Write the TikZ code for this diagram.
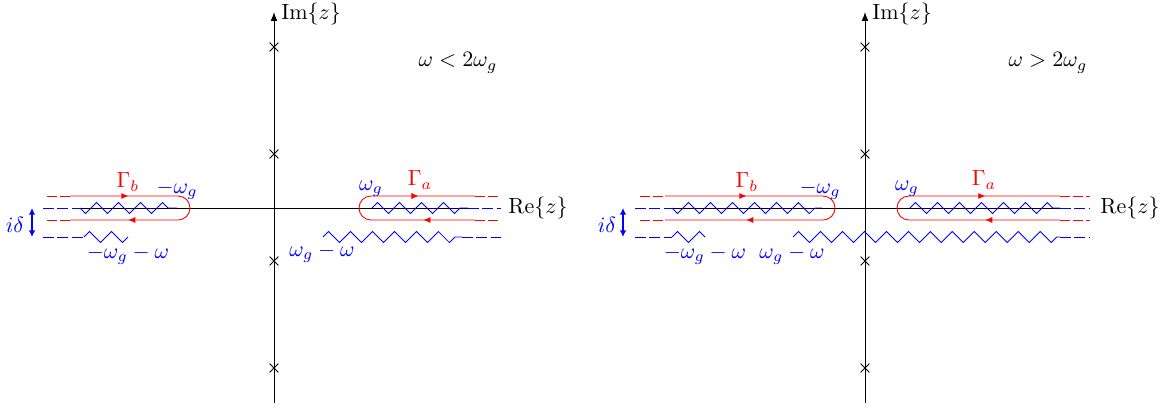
\documentclass[tikz,border=0pt]{standalone}
\usetikzlibrary{decorations.pathmorphing,decorations.markings,arrows.meta,shapes.misc}
\begin{document}
\begin{tikzpicture}[x=0.455pt,y=-0.455pt,
  axis/.style={black,line width=0.4pt},
  cut/.style={blue,decorate,decoration={zigzag,segment length=10pt,amplitude=2.5pt}},
  cutm/.style={blue,decorate,decoration={zigzag,segment length=10pt,amplitude=2.5pt,mirror}},
  bdash/.style={blue,dash pattern=on 5pt off 1.5pt},
  rdash/.style={red,dash pattern=on 4.5pt off 1.5pt},
  lbl/.style={inner sep=0pt},
  pole/.style={draw,cross out,minimum size=3.6pt,inner sep=0pt,line width=0.4pt},
  contour/.style 2 args={red,postaction={decorate},decoration={markings,
     mark=at position #1 with {\arrow{Latex[length=3.2pt,width=2.8pt]}},
     mark=at position #2 with {\arrow{Latex[length=3.2pt,width=2.8pt]}}}},
  delta/.style={blue,line width=0.7pt,{Latex[length=3pt,width=3pt]}-{Latex[length=3pt,width=3pt]}}
]
\useasboundingbox (0,0) rectangle (1160,408);

% ================= left panel =================
\draw[axis,-{Latex[length=4pt,width=3pt]}] (274,403) -- (274,12);
\node[lbl,anchor=west] (imL) at (281,14) {$\mathrm{Im}\{z\}$};
\foreach \y [count=\i] in {47,154,261,368} \node[pole] (pL\i) at (274,\y) {};
\draw[axis] (80,208) -- (468,208);
\node[lbl,anchor=west] (reL) at (508,208) {$\mathrm{Re}\{z\}$};
\node[lbl] (condL) at (458,63) {$\omega<2\omega_g$};

% cuts
\draw[bdash] (43,208) -- (80,208);
\draw[cutm] (80,208) -- (177,208);
\draw[bdash] (43,237) -- (84,237);
\draw[cut] (84,237) -- (128,237);
\draw[cut] (323,237) -- (462,237);
\draw[bdash] (462,237) -- (501,237);
\draw[cut] (372,208) -- (468,208);
\draw[bdash] (468,208) -- (501,208);

% contours
\draw[rdash] (47,196) -- (70,196);
\draw[rdash] (47,220) -- (70,220);
\draw[contour={0.23}{0.77}] (70,196) -- (178,196) arc(-90:90:12) -- (70,220);
\draw[contour={0.21}{0.77}] (475,220) -- (371,220) arc(90:270:12) -- (475,196);
\draw[rdash] (475,196) -- (501,196);
\draw[rdash] (475,220) -- (501,220);

% delta
\coordinate (dL1) at (32,208);
\coordinate (dL2) at (32,237);
\draw[delta] (dL1) -- (dL2);
\node[lbl,blue] (idL) at (15,225) {$i\delta$};

% labels
\node[lbl,red] (gbL) at (128,182) {$\Gamma_b$};
\node[lbl,red] (gaL) at (420,180) {$\Gamma_a$};
\node[lbl,blue] (mwgL) at (177,190) {$-\omega_g$};
\node[lbl,blue] (wgL) at (371,189) {$\omega_g$};
\node[lbl,blue] (mwgwL) at (128,255) {$-\omega_g-\omega$};
\node[lbl,blue] (wgwL) at (322,253) {$\omega_g-\omega$};

% ================= right panel =================
\draw[axis,-{Latex[length=4pt,width=3pt]}] (865,403) -- (865,12);
\node[lbl,anchor=west] (imR) at (872,14) {$\mathrm{Im}\{z\}$};
\foreach \y [count=\i] in {47,154,261,368} \node[pole] (pR\i) at (865,\y) {};
\draw[axis] (672,208) -- (1060,208);
\node[lbl,anchor=west] (reR) at (1100,208) {$\mathrm{Re}\{z\}$};
\node[lbl] (condR) at (1048,63) {$\omega>2\omega_g$};

% cuts
\draw[bdash] (635,208) -- (672,208);
\draw[cutm] (672,208) -- (822,208);
\draw[bdash] (635,237) -- (672,237);
\draw[cut] (672,237) -- (705,237);
\draw[cut] (793,237) -- (1060,237);
\draw[bdash] (1060,237) -- (1090,237);
\draw[cut] (910,208) -- (1060,208);
\draw[bdash] (1060,208) -- (1090,208);

% contours
\draw[rdash] (640,196) -- (665,196);
\draw[rdash] (640,220) -- (665,220);
\draw[contour={0.23}{0.77}] (665,196) -- (823,196) arc(-90:90:12) -- (665,220);
\draw[contour={0.22}{0.78}] (1060,220) -- (909,220) arc(90:270:12) -- (1060,196);
\draw[rdash] (1060,196) -- (1090,196);
\draw[rdash] (1060,220) -- (1090,220);

% delta
\coordinate (dR1) at (623,208);
\coordinate (dR2) at (623,237);
\draw[delta] (dR1) -- (dR2);
\node[lbl,blue] (idR) at (607,225) {$i\delta$};

% labels
\node[lbl,red] (gbR) at (747,182) {$\Gamma_b$};
\node[lbl,red] (gaR) at (984,180) {$\Gamma_a$};
\node[lbl,blue] (mwgR) at (820,190) {$-\omega_g$};
\node[lbl,blue] (wgR) at (907,189) {$\omega_g$};
\node[lbl,blue] (mwgwR) at (705,255) {$-\omega_g-\omega$};
\node[lbl,blue] (wgwR) at (792,255) {$\omega_g-\omega$};
\end{tikzpicture}
\end{document}
